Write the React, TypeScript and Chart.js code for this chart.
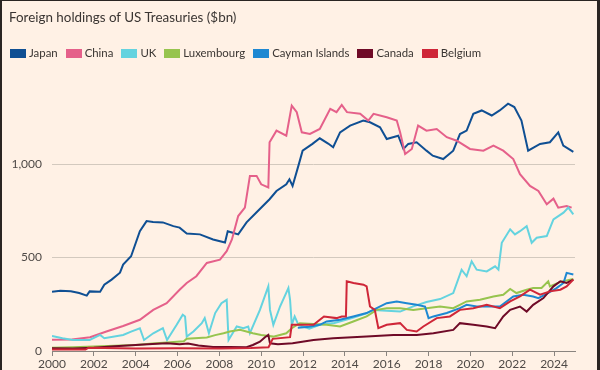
import React, { useEffect, useRef } from "react";
import { Chart, registerables } from "chart.js";

Chart.register(...registerables);

const chartTitle = "Foreign holdings of US Treasuries ($bn)";
const seriesNames = ["Japan", "China", "UK", "Luxembourg", "Cayman Islands", "Canada", "Belgium"];
const seriesColors = ["#0F4F93", "#E5608A", "#64D3DF", "#97C44E", "#1E88D2", "#6F0A27", "#CF2638"];

const xTickYears = [2000, 2002, 2004, 2006, 2008, 2010, 2012, 2014, 2016, 2018, 2020, 2022, 2024];
const yTickValues = [0, 500, 1000];

// [year, $bn]
const japan: [number, number][] = [
  [2000.0, 317], [2000.4, 322], [2000.9, 320], [2001.3, 310], [2001.66, 296], [2001.8, 319], [2002.3, 317],
  [2002.5, 355], [2002.85, 382], [2003.25, 419], [2003.4, 462], [2003.78, 507], [2004.2, 641], [2004.52, 695],
  [2004.83, 690], [2005.3, 688], [2005.8, 668], [2006.1, 660], [2006.44, 629], [2007.07, 624], [2007.7, 597],
  [2008.27, 581], [2008.4, 641], [2008.6, 634], [2008.9, 624], [2009.3, 688], [2009.78, 742], [2010.4, 812],
  [2010.73, 856], [2011.2, 892], [2011.35, 919], [2011.5, 883], [2011.8, 1000], [2011.98, 1072], [2012.45, 1108],
  [2012.8, 1138], [2013.2, 1110], [2013.44, 1090], [2013.77, 1170], [2014.25, 1206], [2014.88, 1233], [2015.2, 1224],
  [2015.68, 1197], [2016.0, 1134], [2016.55, 1152], [2016.8, 1081], [2017.03, 1108], [2017.43, 1117], [2017.9, 1072],
  [2018.2, 1045], [2018.7, 1027], [2019.18, 1072], [2019.5, 1161], [2019.82, 1179], [2020.14, 1269], [2020.54, 1287],
  [2021.02, 1260], [2021.4, 1287], [2021.8, 1323], [2022.1, 1305], [2022.44, 1233], [2022.76, 1072], [2023.33, 1108],
  [2023.8, 1117], [2024.2, 1170], [2024.44, 1099], [2024.92, 1065],
];

const china: [number, number][] = [
  [2000.0, 60], [2000.95, 62], [2001.82, 74], [2002.6, 104], [2003.4, 134], [2004.2, 167], [2004.84, 220],
  [2005.48, 256], [2006.1, 328], [2006.44, 364], [2006.9, 400], [2007.4, 471], [2008.03, 489], [2008.35, 534],
  [2008.6, 597], [2008.9, 722], [2009.22, 767], [2009.46, 937], [2009.78, 937], [2010.0, 892], [2010.34, 875],
  [2010.4, 1117], [2010.73, 1179], [2011.2, 1152], [2011.46, 1313], [2011.7, 1278], [2011.94, 1170], [2012.33, 1161],
  [2012.8, 1188], [2013.3, 1296], [2013.6, 1278], [2013.85, 1317], [2014.1, 1278], [2014.73, 1269], [2015.12, 1233],
  [2015.37, 1269], [2016.0, 1251], [2016.48, 1233], [2016.64, 1170], [2016.88, 1054], [2017.2, 1081], [2017.5, 1206],
  [2017.9, 1179], [2018.39, 1188], [2018.87, 1144], [2019.35, 1125], [2019.98, 1081], [2020.62, 1072], [2021.1, 1099],
  [2021.57, 1072], [2022.05, 1027], [2022.37, 946], [2022.85, 883], [2023.25, 856], [2023.65, 785], [2023.97, 815],
  [2024.2, 767], [2024.6, 776], [2024.84, 767],
];

const uk: [number, number][] = [
  [2000.0, 81], [2000.5, 68], [2001.0, 59], [2001.8, 59], [2002.3, 86], [2002.5, 68], [2003.4, 86], [2003.78, 104],
  [2004.2, 122], [2004.4, 59], [2004.84, 95], [2005.3, 122], [2005.5, 59], [2005.96, 140], [2006.25, 194],
  [2006.36, 185], [2006.44, 77], [2006.76, 104], [2007.16, 149], [2007.3, 176], [2007.5, 95], [2007.8, 203],
  [2008.1, 256], [2008.35, 274], [2008.44, 59], [2008.83, 131], [2009.15, 122], [2009.38, 131], [2009.46, 95],
  [2009.94, 220], [2010.34, 346], [2010.42, 220], [2010.58, 140], [2010.9, 238], [2011.3, 337], [2011.38, 274],
  [2011.46, 140], [2011.6, 185], [2011.78, 140], [2012.3, 120], [2012.8, 140], [2013.5, 150], [2014.3, 175],
  [2015.0, 200], [2015.37, 220], [2016.0, 215], [2016.64, 211], [2017.3, 240], [2017.9, 262], [2018.55, 278],
  [2019.18, 310], [2019.58, 435], [2019.82, 400], [2020.06, 480], [2020.3, 435], [2020.78, 426], [2021.18, 453],
  [2021.34, 435], [2021.5, 579], [2021.9, 651], [2022.13, 624], [2022.37, 641], [2022.69, 668], [2022.93, 579],
  [2023.17, 606], [2023.65, 615], [2023.97, 704], [2024.45, 740], [2024.68, 767], [2024.92, 731],
];

const luxembourg: [number, number][] = [
  [2000.0, 18], [2001.0, 20], [2002.0, 24], [2003.0, 28], [2004.0, 32], [2004.8, 40], [2005.5, 45], [2006.3, 52],
  [2006.44, 66], [2007.4, 72], [2007.8, 85], [2008.2, 95], [2008.5, 104], [2008.99, 113], [2009.6, 95],
  [2010.0, 86], [2010.58, 77], [2011.2, 95], [2011.46, 122], [2011.85, 149], [2013.13, 140], [2013.77, 131],
  [2014.4, 158], [2015.04, 185], [2015.52, 220], [2016.0, 229], [2016.64, 229], [2017.27, 220], [2017.9, 229],
  [2018.55, 238], [2019.18, 229], [2019.82, 265], [2020.46, 274], [2021.1, 292], [2021.57, 301], [2021.9, 332],
  [2022.2, 310], [2022.69, 328], [2023.0, 337], [2023.4, 337], [2023.72, 373], [2023.8, 346], [2024.3, 370],
  [2024.92, 385],
];

const cayman: [number, number][] = [
  [2011.75, 125], [2012.3, 130], [2012.8, 140], [2013.13, 158], [2013.77, 167], [2014.4, 185], [2015.04, 203],
  [2015.52, 229], [2016.0, 256], [2016.48, 265], [2016.96, 256], [2017.43, 247], [2017.83, 238], [2018.0, 176],
  [2018.23, 185], [2018.87, 203], [2019.5, 229], [2019.82, 247], [2020.3, 238], [2020.78, 238], [2021.41, 238],
  [2022.05, 292], [2022.53, 301], [2023.0, 292], [2023.25, 283], [2023.7, 310], [2024.1, 335], [2024.45, 364],
  [2024.6, 418], [2024.92, 409],
];

const canada: [number, number][] = [
  [2000.0, 15], [2001.0, 13], [2002.0, 18], [2003.0, 26], [2004.0, 32], [2004.8, 38], [2005.5, 42], [2006.1, 36],
  [2006.5, 40], [2007.0, 30], [2007.7, 22], [2008.5, 22], [2009.3, 20], [2009.6, 32], [2009.94, 50],
  [2010.18, 74], [2010.34, 86], [2010.42, 41], [2010.8, 36], [2011.5, 41], [2012.5, 59], [2013.44, 68],
  [2015.04, 77], [2016.32, 86], [2017.43, 86], [2018.23, 95], [2019.18, 113], [2019.5, 149], [2020.14, 140],
  [2020.78, 131], [2021.18, 122], [2021.57, 185], [2021.9, 220], [2022.37, 238], [2022.69, 211], [2023.0, 247],
  [2023.49, 283], [2023.97, 346], [2024.3, 373], [2024.6, 364], [2024.92, 382],
];

const belgium: [number, number][] = [
  [2000.0, 8], [2001.6, 8], [2001.75, 18], [2002.5, 16], [2004.0, 14], [2006.0, 15], [2008.0, 13], [2009.5, 16],
  [2010.35, 20], [2010.55, 65], [2011.38, 74], [2011.46, 140], [2012.5, 140], [2013.0, 185], [2013.6, 176],
  [2013.85, 185], [2014.05, 185], [2014.09, 373], [2014.41, 364], [2014.89, 355], [2015.04, 346], [2015.2, 238],
  [2015.43, 220], [2015.6, 122], [2016.0, 140], [2016.64, 149], [2016.96, 113], [2017.43, 104], [2017.75, 131],
  [2018.39, 176], [2019.02, 185], [2019.5, 220], [2020.14, 229], [2020.78, 247], [2021.41, 229], [2021.9, 265],
  [2022.37, 292], [2022.85, 328], [2023.33, 301], [2023.8, 319], [2024.3, 328], [2024.6, 346], [2024.92, 382],
];

const FONT = "Lato, 'Noto Sans', sans-serif";
const BG = "#FFF1E5";
const TEXT = "#3A3532";
const TICK_TEXT = "#4F4A47";
const GRID = "#D3C9BE";
const AXIS = "#8A847F";

export default function App() {
  const canvasRef = useRef<HTMLCanvasElement>(null);

  useEffect(() => {
    document.body.style.margin = "0";
    document.body.style.background = BG;
    const series = [japan, china, uk, luxembourg, cayman, canada, belgium];
    const chart = new Chart(canvasRef.current as HTMLCanvasElement, {
      type: "line",
      data: {
        datasets: series.map((s, i) => ({
          label: seriesNames[i],
          data: s.map(([x, y]) => ({ x, y })),
          borderColor: seriesColors[i],
          backgroundColor: seriesColors[i],
          borderWidth: 2,
          pointRadius: 0,
          tension: 0,
          fill: false,
          order: series.length - i,
        })),
      },
      options: {
        responsive: false,
        animation: false,
        events: [],
        layout: { padding: { top: 80, right: 25, left: 0, bottom: 0 } },
        plugins: { legend: { display: false }, tooltip: { enabled: false }, title: { display: false } },
        scales: {
          x: {
            type: "linear",
            min: 2000,
            max: 2025,
            afterBuildTicks: (axis: any) => {
              axis.ticks = xTickYears.map((v) => ({ value: v }));
            },
            afterFit: (axis: any) => {
              axis.height = 19;
            },
            ticks: {
              callback: (v: any) => String(v),
              autoSkip: false,
              maxRotation: 0,
              padding: 1,
              color: TICK_TEXT,
              font: { family: FONT, size: 12 },
            },
            grid: { drawOnChartArea: false, drawTicks: true, tickLength: 5, color: AXIS },
            border: { display: true, color: AXIS, width: 1 },
          },
          y: {
            min: 0,
            max: 1450,
            afterBuildTicks: (axis: any) => {
              axis.ticks = yTickValues.map((v) => ({ value: v }));
            },
            afterFit: (axis: any) => {
              axis.width = 52;
            },
            ticks: {
              callback: (v: any) => Number(v).toLocaleString("en-US"),
              padding: 10,
              color: TICK_TEXT,
              font: { family: FONT, size: 12 },
            },
            grid: {
              drawTicks: false,
              color: (ctx: any) => (ctx.tick && ctx.tick.value === 0 ? "rgba(0,0,0,0)" : GRID),
            },
            border: { display: false },
          },
        },
      },
    });
    return () => chart.destroy();
  }, []);

  return (
    <div style={{ position: "fixed", left: 0, top: 0, width: 600, height: 370, background: BG, overflow: "hidden", fontFamily: FONT }}>
      <canvas ref={canvasRef} width={600} height={370} style={{ position: "absolute", left: 0, top: 0, width: 600, height: 370 }} />
      <div style={{ position: "absolute", left: 9, top: 8, fontSize: 13.4, color: TEXT, whiteSpace: "nowrap", lineHeight: "18px" }}>
        {chartTitle}
      </div>
      <div style={{ position: "absolute", left: 10, top: 45, display: "flex", alignItems: "center", fontSize: 11.4, color: TEXT, whiteSpace: "nowrap", lineHeight: "16px" }}>
        {seriesNames.map((name, i) => (
          <div key={name} style={{ display: "flex", alignItems: "center", marginRight: 8 }}>
            <span style={{ display: "inline-block", width: 16, height: 9, background: seriesColors[i], marginRight: 3 }} />
            <span>{name}</span>
          </div>
        ))}
      </div>
      <div style={{ position: "absolute", left: 0, top: 0, width: 2, height: 370, background: "#2A2522" }} />
      <div style={{ position: "absolute", right: 0, top: 0, width: 3, height: 370, background: "#2A2522" }} />
      <div style={{ position: "absolute", left: 0, top: 0, width: 600, height: 1, background: "#2A2522" }} />
    </div>
  );
}
